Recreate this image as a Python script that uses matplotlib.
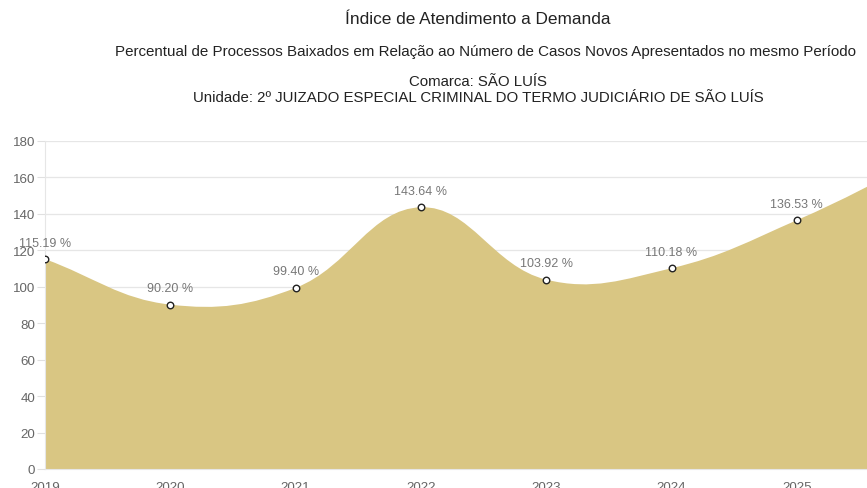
import matplotlib
matplotlib.use("Agg")
import matplotlib.pyplot as plt
import numpy as np
from matplotlib.path import Path
from matplotlib.patches import PathPatch

plt.rcParams['font.family'] = ['Liberation Sans', 'DejaVu Sans']

years = [2019, 2020, 2021, 2022, 2023, 2024, 2025, 2026]
values = [115.19, 90.20, 99.40, 143.64, 103.92, 110.18, 136.53, 170.0]
labels = ["115.19 %", "90.20 %", "99.40 %", "143.64 %", "103.92 %", "110.18 %", "136.53 %", ""]
yticks = [0, 20, 40, 60, 80, 100, 120, 140, 160, 180]

title = "Índice de Atendimento a Demanda"
subtitle = "Percentual de Processos Baixados em Relação ao Número de Casos Novos Apresentados no mesmo Período"
line3 = "Comarca: SÃO LUÍS"
line4 = "Unidade: 2º JUIZADO ESPECIAL CRIMINAL DO TERMO JUDICIÁRIO DE SÃO LUÍS"

W, H = 867, 489
fig = plt.figure(figsize=(W / 100, H / 100), dpi=100)
ax = fig.add_axes([45 / W, 19 / H, 1 - 45 / W, (470 - 142) / H])

fill_color = "#d9c683"

# Chart.js-like bezier spline (tension 0.4) in pixel-scaled space
sx, sy = 125.3, 1.822
P = np.array([[x * sx, y * sy] for x, y in zip(years, values)], dtype=float)
n = len(P)
t = 0.4
cp_prev = P.copy()
cp_next = P.copy()
for i in range(n):
    p0 = P[i - 1] if i > 0 else P[i]
    p1 = P[i]
    p2 = P[i + 1] if i < n - 1 else P[i]
    d01 = np.hypot(*(p1 - p0))
    d12 = np.hypot(*(p2 - p1))
    s = d01 + d12
    fa = t * d01 / s if s else 0
    fb = t * d12 / s if s else 0
    cp_prev[i] = p1 - fa * (p2 - p0)
    cp_next[i] = p1 + fb * (p2 - p0)

verts = [(years[0], 0), (years[0], values[0])]
codes = [Path.MOVETO, Path.LINETO]
for i in range(n - 1):
    c1 = cp_next[i]
    c2 = cp_prev[i + 1]
    verts += [(c1[0] / sx, c1[1] / sy), (c2[0] / sx, c2[1] / sy), (years[i + 1], values[i + 1])]
    codes += [Path.CURVE4] * 3
verts += [(years[-1], 0), (years[0], 0)]
codes += [Path.LINETO, Path.CLOSEPOLY]
ax.add_patch(PathPatch(Path(verts, codes), facecolor=fill_color, edgecolor="none", zorder=2))

ax.scatter(years[:-1], values[:-1], s=22, facecolor="white", edgecolor="#222222", linewidth=1.0, zorder=4)
for x, y, lab in zip(years, values, labels):
    if lab:
        ax.annotate(lab, (x, y), xytext=(0, 7.5), textcoords="offset points", ha="center", va="bottom",
                    fontsize=9, color="#777777", zorder=5)

ax.set_xlim(2019, 2019 + (867 - 45) / 125.3)
ax.set_ylim(0, 180)
ax.set_yticks(yticks)
ax.set_xticks(years[:-1])
ax.set_xticklabels([str(y) for y in years[:-1]])
ax.grid(axis="y", color="#e6e6e6", linewidth=0.9, zorder=0)
ax.set_axisbelow(True)
for sp in ["top", "right"]:
    ax.spines[sp].set_visible(False)
ax.spines["left"].set_color("#e6e6e6")
ax.spines["bottom"].set_color("#e6e6e6")
ax.tick_params(axis="y", colors="#e0e0e0", labelcolor="#666666", labelsize=9.6, length=6, pad=1)
ax.tick_params(axis="x", colors="#e0e0e0", labelcolor="#666666", labelsize=9.6, length=0, pad=9)

cx = 478 / W
fig.text(cx, 1 - 20 / H, title, ha="center", va="center", fontsize=12.4, color="#222222")
fig.text(cx + 7 / W, 1 - 52 / H, subtitle, ha="center", va="center", fontsize=10.9, color="#222222")
fig.text(cx, 1 - 82 / H, line3, ha="center", va="center", fontsize=10.8, color="#222222")
fig.text(cx, 1 - 98 / H, line4, ha="center", va="center", fontsize=10.8, color="#222222")

fig.savefig("out.png", dpi=100)
